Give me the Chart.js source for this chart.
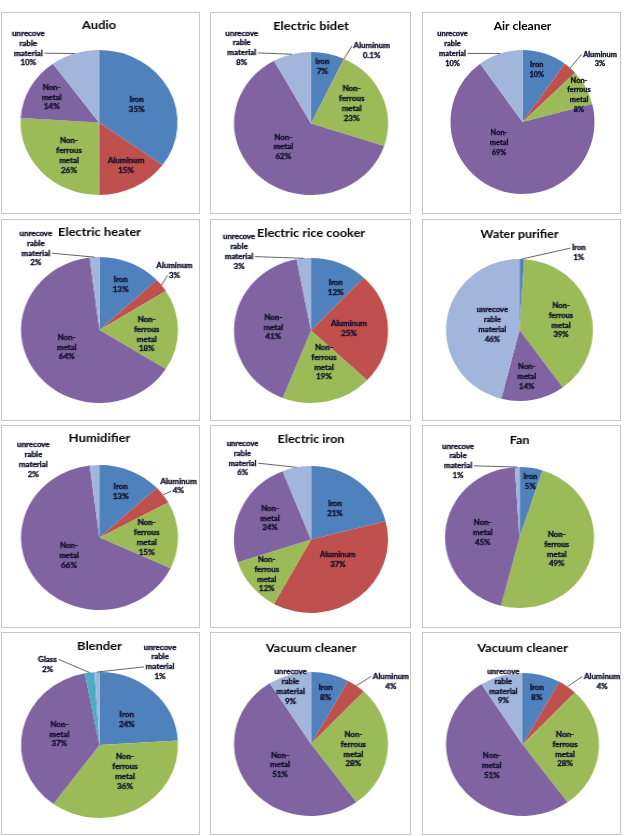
<!DOCTYPE html>
<html>
<head>
<meta charset="utf-8">
<script src="https://cdn.jsdelivr.net/npm/chart.js"></script>
<style>
  body { margin: 0; background: #fff; width: 625px; height: 836px; position: relative; overflow: hidden; }
  .panel { position: absolute; box-sizing: border-box; border: 1px solid #c6c6c6; background: #fff; overflow: hidden; }
  .panel canvas { position: absolute; left: 0; top: 0; transform-origin: 0 0; }
</style>
</head>
<body>
<script>
// titles, row by row
const titles = ['Audio', 'Electric bidet', 'Air cleaner', 'Electric heater', 'Electric rice cooker', 'Water purifier',
  'Humidifier', 'Electric iron', 'Fan', 'Blender', 'Vacuum cleaner', 'Vacuum cleaner'];

// categories
const metals = ['Iron', 'Aluminum', 'Non-ferrous metal', 'Non-metal', 'unrecoverable material'];
const noAluminum = ['Iron', 'Non-ferrous metal', 'Non-metal', 'unrecoverable material'];
const withGlass = ['Iron', 'Non-ferrous metal', 'Non-metal', 'Glass', 'unrecoverable material'];

// shares in %
const audio = [35, 15, 26, 14, 10];
const electricBidet = [7, 0.1, 23, 62, 8];
const airCleaner = [10, 3, 8, 69, 10];
const electricHeater = [13, 3, 18, 64, 2];
const riceCooker = [12, 25, 19, 41, 3];
const waterPurifier = [1, 39, 14, 46];
const humidifier = [13, 4, 15, 66, 2];
const electricIron = [21, 37, 12, 24, 6];
const fan = [5, 49, 45, 1];
const blender = [24, 36, 37, 2, 1];
const vacuumCleaner = [8, 4, 28, 51, 9];
const vacuumCleaner2 = [8, 4, 28, 51, 9];

// how labels are broken in the picture
const wrapped = {
  'Iron': ['Iron'],
  'Aluminum': ['Aluminum'],
  'Non-ferrous metal': ['Non-', 'ferrous', 'metal'],
  'Non-metal': ['Non-', 'metal'],
  'Glass': ['Glass'],
  'unrecoverable material': ['unrecove', 'rable', 'material']
};

const colors = {
  'Iron': '#4F81BD',
  'Aluminum': '#C0504D',
  'Non-ferrous metal': '#9BBB59',
  'Non-metal': '#8064A2',
  'Glass': '#4BACC6',
  'unrecoverable material': '#A2B6DB'
};

// page layout: panel columns / rows
const cols = [[1, 199], [210, 201], [422, 199]];
const rows = [[12, 202], [219, 202], [425, 203], [632, 203]];

// pie: [cx, cy, rx, ry] in page px, label spots: [x, y, 'lead' | 'out']
const panels = [
  { cats: metals, data: audio, col: 0, row: 0, pie: [99, 122.5, 78.5, 72.5], titleY: 25.5,
    spots: [[136.7, 104.7], [126, 165.8], [69, 155.8], [51.7, 97.3], [28.3, 48.3, 'lead']] },
  { cats: metals, data: electricBidet, col: 1, row: 0, pie: [311, 123.5, 77, 71.5], titleY: 26,
    spots: [[322.3, 66.7], [371.7, 50.7, 'lead'], [351.7, 103.8], [283.3, 147], [241.7, 48, 'lead']] },
  { cats: metals, data: airCleaner, col: 2, row: 0, pie: [522.5, 122, 72, 72], titleY: 26,
    spots: [[536.7, 70], [600, 59.2, 'lead'], [579, 95], [499, 142.7], [452.5, 48.5, 'lead']] },
  { cats: metals, data: electricHeater, col: 0, row: 1, pie: [99.5, 330, 78.5, 73], titleY: 232,
    spots: [[120.7, 284.7], [174.5, 270.5, 'lead'], [146.7, 334.3], [66.7, 347.3], [35.8, 248.3, 'lead']] },
  { cats: metals, data: riceCooker, col: 1, row: 1, pie: [311, 330.5, 77, 72.5], titleY: 233,
    spots: [[335.7, 287.7], [349, 328.8], [324, 362.3], [273.3, 327.3], [239, 251.7, 'lead']] },
  { cats: noAluminum, data: waterPurifier, col: 2, row: 1, pie: [519.5, 330, 73.5, 71], titleY: 234,
    spots: [[578.8, 253, 'lead'], [561, 320.3], [526.7, 376.7], [492.3, 324.5]] },
  { cats: metals, data: humidifier, col: 0, row: 2, pie: [99.5, 537.5, 78.5, 72.5], titleY: 438,
    spots: [[120.7, 491.7], [178.5, 486.2, 'lead'], [146.7, 537.6], [69, 555.9], [33.3, 459.8, 'out']] },
  { cats: metals, data: electricIron, col: 1, row: 2, pie: [311, 539.5, 77, 73.5], titleY: 439,
    spots: [[335, 508.7], [337.7, 560], [266.7, 574.4], [270, 518.3], [242.5, 458.3, 'lead']] },
  { cats: noAluminum, data: fan, col: 2, row: 2, pie: [519.5, 537.5, 74.5, 70.5], titleY: 440,
    spots: [[530.3, 482], [556.7, 549.3], [482.7, 532.9], [458, 460.9, 'lead']] },
  { cats: withGlass, data: blender, col: 0, row: 3, pie: [99.5, 745, 78.5, 73], titleY: 646,
    spots: [[126.7, 719.3], [125, 771.7], [59.3, 734.3], [47.5, 664.3, 'lead'], [160, 662, 'lead']] },
  { cats: metals, data: vacuumCleaner, col: 1, row: 3, pie: [311, 744, 77, 72], titleY: 648,
    spots: [[325.5, 692.7], [390.8, 681.3, 'lead'], [353.3, 749.3], [280, 765], [290.5, 686.8]] },
  { cats: metals, data: vacuumCleaner2, col: 2, row: 3, pie: [522.5, 744.5, 76.5, 71.5], titleY: 648,
    spots: [[536.7, 692.7], [602, 681.3, 'lead'], [565, 749.3], [491.7, 765.5], [503.3, 686.3]] }
];

const LH = 9.8;

// data labels + leader lines, spots already in canvas coords
function makeLabels(spots) {
  return {
    id: 'sliceLabels',
    afterDatasetsDraw(chart) {
      const ctx = chart.ctx;
      const meta = chart.getDatasetMeta(0);
      const cats = chart.data.labels;
      const vals = chart.data.datasets[0].data;
      ctx.save();
      ctx.font = 'bold 7.4px Lato';
      ctx.textAlign = 'center';
      ctx.textBaseline = 'middle';
      meta.data.forEach(function (arc, i) {
        const s = spots[i];
        const lines = wrapped[cats[i]].concat(vals[i] + '%');
        const x = s[0];
        const y0 = s[1] - (lines.length - 1) * LH / 2;
        if (s[2] === 'lead') {
          const p = arc.getProps(['x', 'y', 'startAngle', 'endAngle', 'outerRadius'], true);
          const mid = (p.startAngle + p.endAngle) / 2;
          const px = p.x + Math.cos(mid) * p.outerRadius;
          const py = p.y + Math.sin(mid) * p.outerRadius;
          let best = null;
          lines.forEach(function (t, k) {
            const hw = ctx.measureText(t).width / 2 + 1.5;
            const ex = px < x ? x - hw : x + hw;
            const ey = y0 + k * LH;
            const d = Math.hypot(ex - px, ey - py);
            if (!best || d < best.d) best = { ex: ex, ey: ey, d: d };
          });
          ctx.strokeStyle = '#3c3c3c';
          ctx.lineWidth = 0.8;
          ctx.beginPath();
          ctx.moveTo(best.ex, best.ey);
          ctx.lineTo(px, py);
          ctx.stroke();
        }
        // a thin stroke makes the small bold text as heavy as the original
        ctx.fillStyle = '#10102a';
        ctx.strokeStyle = '#10102a';
        ctx.lineWidth = 0.35;
        lines.forEach(function (t, k) {
          ctx.fillText(t, x, y0 + k * LH);
          ctx.strokeText(t, x, y0 + k * LH);
        });
      });
      ctx.restore();
    }
  };
}

function createPie(p, idx) {
  const bx = cols[p.col][0], bw = cols[p.col][1];
  const by = rows[p.row][0], bh = rows[p.row][1];
  const [cx, cy, rx, ry] = p.pie;
  const sx = rx / ry;

  const div = document.createElement('div');
  div.className = 'panel';
  div.style.left = bx + 'px';
  div.style.top = by + 'px';
  div.style.width = bw + 'px';
  div.style.height = bh + 'px';
  document.body.appendChild(div);

  const cw = Math.round((bw - 2) / sx);
  const ch = bh - 2;
  const canvas = document.createElement('canvas');
  canvas.width = cw;
  canvas.height = ch;
  canvas.style.width = cw + 'px';
  canvas.style.height = ch + 'px';
  canvas.style.transform = 'scaleX(' + sx + ')';
  div.appendChild(canvas);

  const toX = v => (v - bx - 1) / sx;
  const toY = v => v - by - 1;
  const pcx = toX(cx), pcy = toY(cy), ty = toY(p.titleY);
  const spots = p.spots.map(s => [toX(s[0]), toY(s[1]), s[2]]);

  return new Chart(canvas, {
    type: 'pie',
    data: {
      labels: p.cats,
      datasets: [{
        data: p.data,
        backgroundColor: p.cats.map(c => colors[c]),
        borderWidth: 0
      }]
    },
    options: {
      responsive: false,
      animation: false,
      events: [],
      layout: {
        padding: { left: pcx - ry, right: cw - pcx - ry, top: 0, bottom: ch - pcy - ry }
      },
      plugins: {
        legend: { display: false },
        tooltip: { enabled: false },
        title: {
          display: true,
          text: titles[idx],
          color: '#000',
          font: { family: 'Lato', size: 12, weight: 'bold', lineHeight: 1.2 },
          padding: { top: ty - 7.2, bottom: (pcy - ry) - (ty + 7.2) }
        }
      }
    },
    plugins: [makeLabels(spots)]
  });
}

document.fonts.load('bold 12px Lato').then(function () {
  panels.forEach(createPie);
});
</script>
</body>
</html>
